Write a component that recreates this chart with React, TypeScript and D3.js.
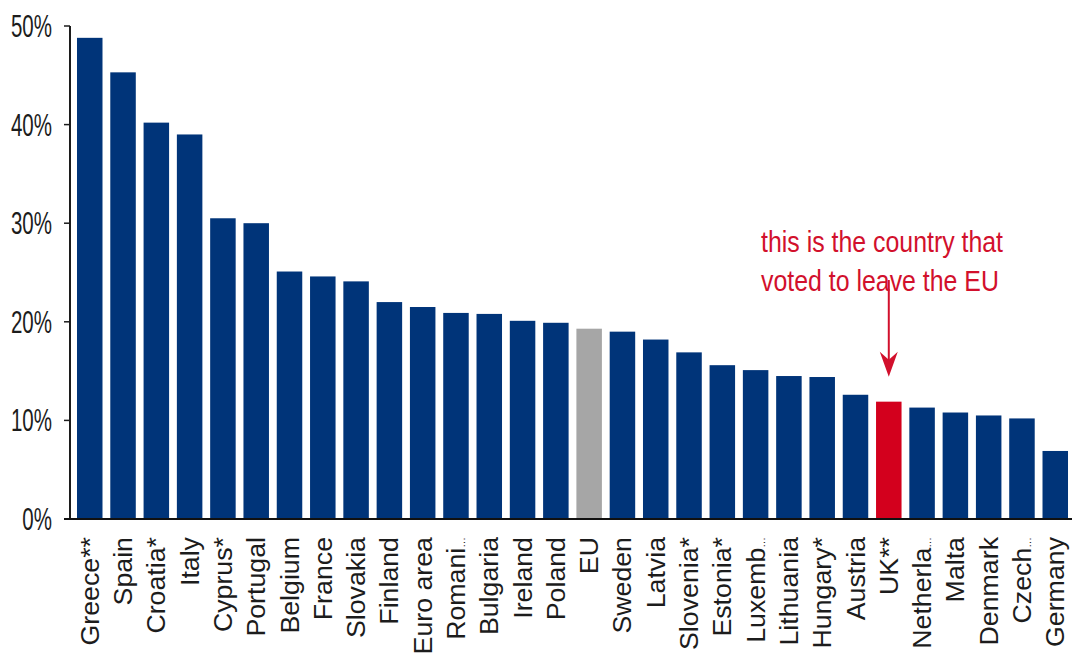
import React, { useEffect, useRef } from 'react';
import * as d3 from 'd3';

// 국가별 값 (%)
const countries = [
    'Greece**', 'Spain', 'Croatia*', 'Italy', 'Cyprus*', 'Portugal', 'Belgium', 'France', 'Slovakia', 'Finland',
    'Euro area', 'Romani…', 'Bulgaria', 'Ireland', 'Poland', 'EU', 'Sweden', 'Latvia', 'Slovenia*', 'Estonia*',
    'Luxemb…', 'Lithuania', 'Hungary*', 'Austria', 'UK**', 'Netherla…', 'Malta', 'Denmark', 'Czech…', 'Germany',
];
const values = [
    48.8, 45.3, 40.2, 39.0, 30.5, 30.0, 25.1, 24.6, 24.1, 22.0,
    21.5, 20.9, 20.8, 20.1, 19.9, 19.3, 19.0, 18.2, 16.9, 15.6,
    15.1, 14.5, 14.4, 12.6, 11.9, 11.3, 10.8, 10.5, 10.2, 6.9,
];
const yTicks = [0, 10, 20, 30, 40, 50];
const annotationLines = ['this is the country that', 'voted to leave the EU'];
const highlightTarget = 'UK**';

const barColor = '#003479';
const euColor = '#a6a6a6';
const ukColor = '#d3001d';
const noteColor = '#d2102c';
const textColor = '#1c1c1c';
const font = '"Liberation Sans", Arial, sans-serif';

const App = () => {
    const svgRef = useRef(null);

    useEffect(() => {
        const svg = d3.select(svgRef.current);
        svg.selectAll('*').remove();

        const x = d3.scaleBand<string>()
            .domain(countries)
            .range([70, 1075])
            .paddingInner(0.234)
            .paddingOuter(0.21);

        const y = d3.scaleLinear().domain([0, 50]).range([519, 26]);

        // 막대
        svg.append('g')
            .selectAll('rect')
            .data(countries)
            .join('rect')
            .attr('x', d => x(d)!)
            .attr('y', (d, i) => y(values[i]))
            .attr('width', x.bandwidth())
            .attr('height', (d, i) => y(0) - y(values[i]))
            .attr('fill', d => d === 'EU' ? euColor : d === highlightTarget ? ukColor : barColor);

        // y축
        const yAxis = svg.append('g');
        yAxis.append('line')
            .attr('x1', 70).attr('x2', 70)
            .attr('y1', y(50)).attr('y2', y(0))
            .attr('stroke', textColor).attr('stroke-width', 2);
        yAxis.selectAll('line.tick')
            .data(yTicks)
            .join('line')
            .attr('class', 'tick')
            .attr('x1', 64).attr('x2', 70)
            .attr('y1', d => y(d)).attr('y2', d => y(d))
            .attr('stroke', textColor).attr('stroke-width', 1.5);
        yAxis.selectAll('text')
            .data(yTicks)
            .join('text')
            .attr('transform', d => `translate(52,${y(d)}) scale(0.82,1.23)`)
            .attr('dy', '0.36em')
            .attr('text-anchor', 'end')
            .attr('font-family', font)
            .attr('font-size', 25)
            .attr('fill', textColor)
            .text(d => `${d}%`);

        // x축
        svg.append('line')
            .attr('x1', 64).attr('x2', 1072)
            .attr('y1', y(0)).attr('y2', y(0))
            .attr('stroke', '#111').attr('stroke-width', 2);

        // 라벨 (잘린 이름은 말줄임표를 작게)
        const labels = svg.append('g')
            .selectAll('text')
            .data(countries)
            .join('text')
            .attr('transform', d => `translate(${x(d)! + x.bandwidth() / 2},537) rotate(-90) scale(1.07,1)`)
            .attr('dy', '0.36em')
            .attr('text-anchor', 'end')
            .attr('font-family', font)
            .attr('font-size', 25)
            .attr('fill', textColor);
        labels.append('tspan').text(d => d.replace('…', ''));
        labels.filter(d => d.endsWith('…'))
            .append('tspan')
            .attr('font-size', 10)
            .text('…');

        // 주석
        const note = svg.append('g').attr('fill', noteColor);
        annotationLines.forEach((line, i) => {
            note.append('text')
                .attr('transform', `translate(761,${252 + i * 39}) scale(0.83,1)`)
                .attr('font-family', font)
                .attr('font-size', 30)
                .text(line);
        });

        const ax = x(highlightTarget)! + x.bandwidth() / 2;
        const tipY = y(values[countries.indexOf(highlightTarget)]) - 25;
        note.append('line')
            .attr('x1', ax).attr('x2', ax)
            .attr('y1', 280).attr('y2', tipY - 10)
            .attr('stroke', noteColor).attr('stroke-width', 2);
        note.append('path')
            .attr('d', `M${ax},${tipY} L${ax - 9},${tipY - 25} L${ax},${tipY - 17} L${ax + 9},${tipY - 25} Z`);
    }, []);

    return (
        <svg ref={svgRef} width={1072} height={655}
             style={{ position: 'absolute', left: 0, top: 0, background: '#fff' }}/>
    );
};

export default App;
